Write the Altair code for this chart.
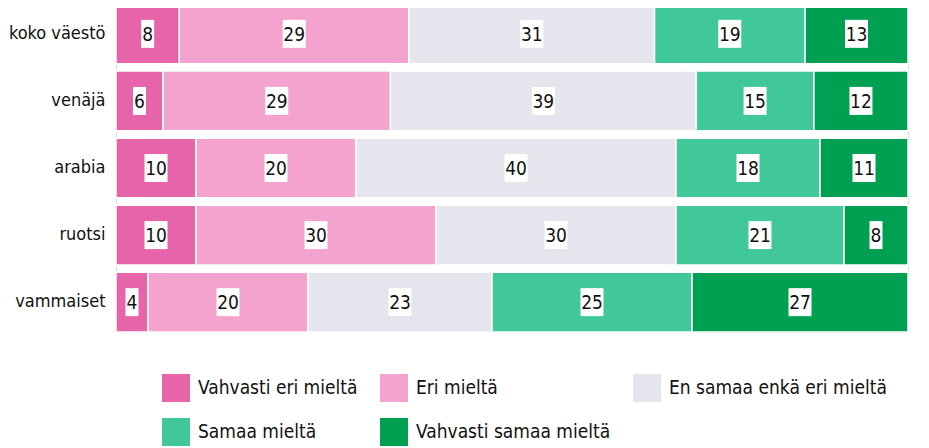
import altair as alt
import pandas as pd

categories = ["koko väestö", "venäjä", "arabia", "ruotsi", "vammaiset"]
responses = ["Vahvasti eri mieltä", "Eri mieltä", "En samaa enkä eri mieltä",
             "Samaa mieltä", "Vahvasti samaa mieltä"]
colors = ["#E864AA", "#F3A3CE", "#E6E4EC", "#40C898", "#00A052"]

v_vahvasti_eri = [8, 6, 10, 10, 4]
v_eri = [29, 29, 20, 30, 20]
v_en = [31, 39, 40, 30, 23]
v_samaa = [19, 15, 18, 21, 25]
v_vahvasti_samaa = [13, 12, 11, 8, 27]

series = [v_vahvasti_eri, v_eri, v_en, v_samaa, v_vahvasti_samaa]
rows = []
for ri, (resp, vals) in enumerate(zip(responses, series)):
    for cat, v in zip(categories, vals):
        rows.append({"cat": cat, "resp": resp, "order": ri, "value": v})
df = pd.DataFrame(rows)

FONT = "DejaVu Sans Condensed"
PLOT_W = 792
PLOT_H = 328

base = alt.Chart(df).transform_stack(
    stack="value", groupby=["cat"], as_=["x0", "x1"], offset="normalize",
    sort=[alt.SortField("order", order="ascending")]
).transform_calculate(
    mid="(datum.x0 + datum.x1) / 2",
    hw="(length(toString(datum.value)) == 1 ? 6.5 : 11.5) / " + str(PLOT_W),
).transform_calculate(
    lo="datum.mid - datum.hw",
    hi="datum.mid + datum.hw",
)

yenc = alt.Y("cat:N", sort=categories, title=None,
             scale=alt.Scale(paddingInner=0.11, paddingOuter=0.0),
             axis=alt.Axis(domain=False, ticks=False, labelFont=FONT,
                           labelFontSize=18, labelColor="#111111",
                           labelPadding=11))
xscale = alt.Scale(domain=[0, 1], nice=False, zero=True)

bars = base.mark_bar(stroke="white", strokeWidth=1.5).encode(
    x=alt.X("x0:Q", scale=xscale, axis=None),
    x2="x1:Q",
    y=yenc,
    color=alt.Color("resp:N", scale=alt.Scale(domain=responses, range=colors),
                    legend=alt.Legend(
                        title=None, orient="none", legendX=46, legendY=370,
                        columns=3, gridAlign="each", columnPadding=22,
                        rowPadding=16, symbolType="square", symbolSize=784,
                        symbolStrokeWidth=0, labelFont=FONT, labelFontSize=19,
                        labelColor="#111111", labelOffset=8, labelLimit=400,
                        direction="horizontal")),
    order=alt.Order("order:Q"),
)

boxes = base.mark_bar(color="white", size=28).encode(
    x=alt.X("lo:Q", scale=xscale, axis=None),
    x2="hi:Q",
    y=alt.Y("cat:N", sort=categories),
)

labels = base.mark_text(font=FONT, fontSize=19, color="#111111",
                        baseline="middle", dy=1).encode(
    x=alt.X("mid:Q", scale=xscale, axis=None),
    y=alt.Y("cat:N", sort=categories),
    text="value:Q",
)

chart = alt.layer(bars, boxes, labels).properties(
    width=PLOT_W, height=PLOT_H,
    padding={"left": 0, "top": -5, "right": 0, "bottom": 0},
).configure_view(stroke=None).configure(background="white")

chart.save("out.html", embed_options={"renderer": "svg", "actions": False})
